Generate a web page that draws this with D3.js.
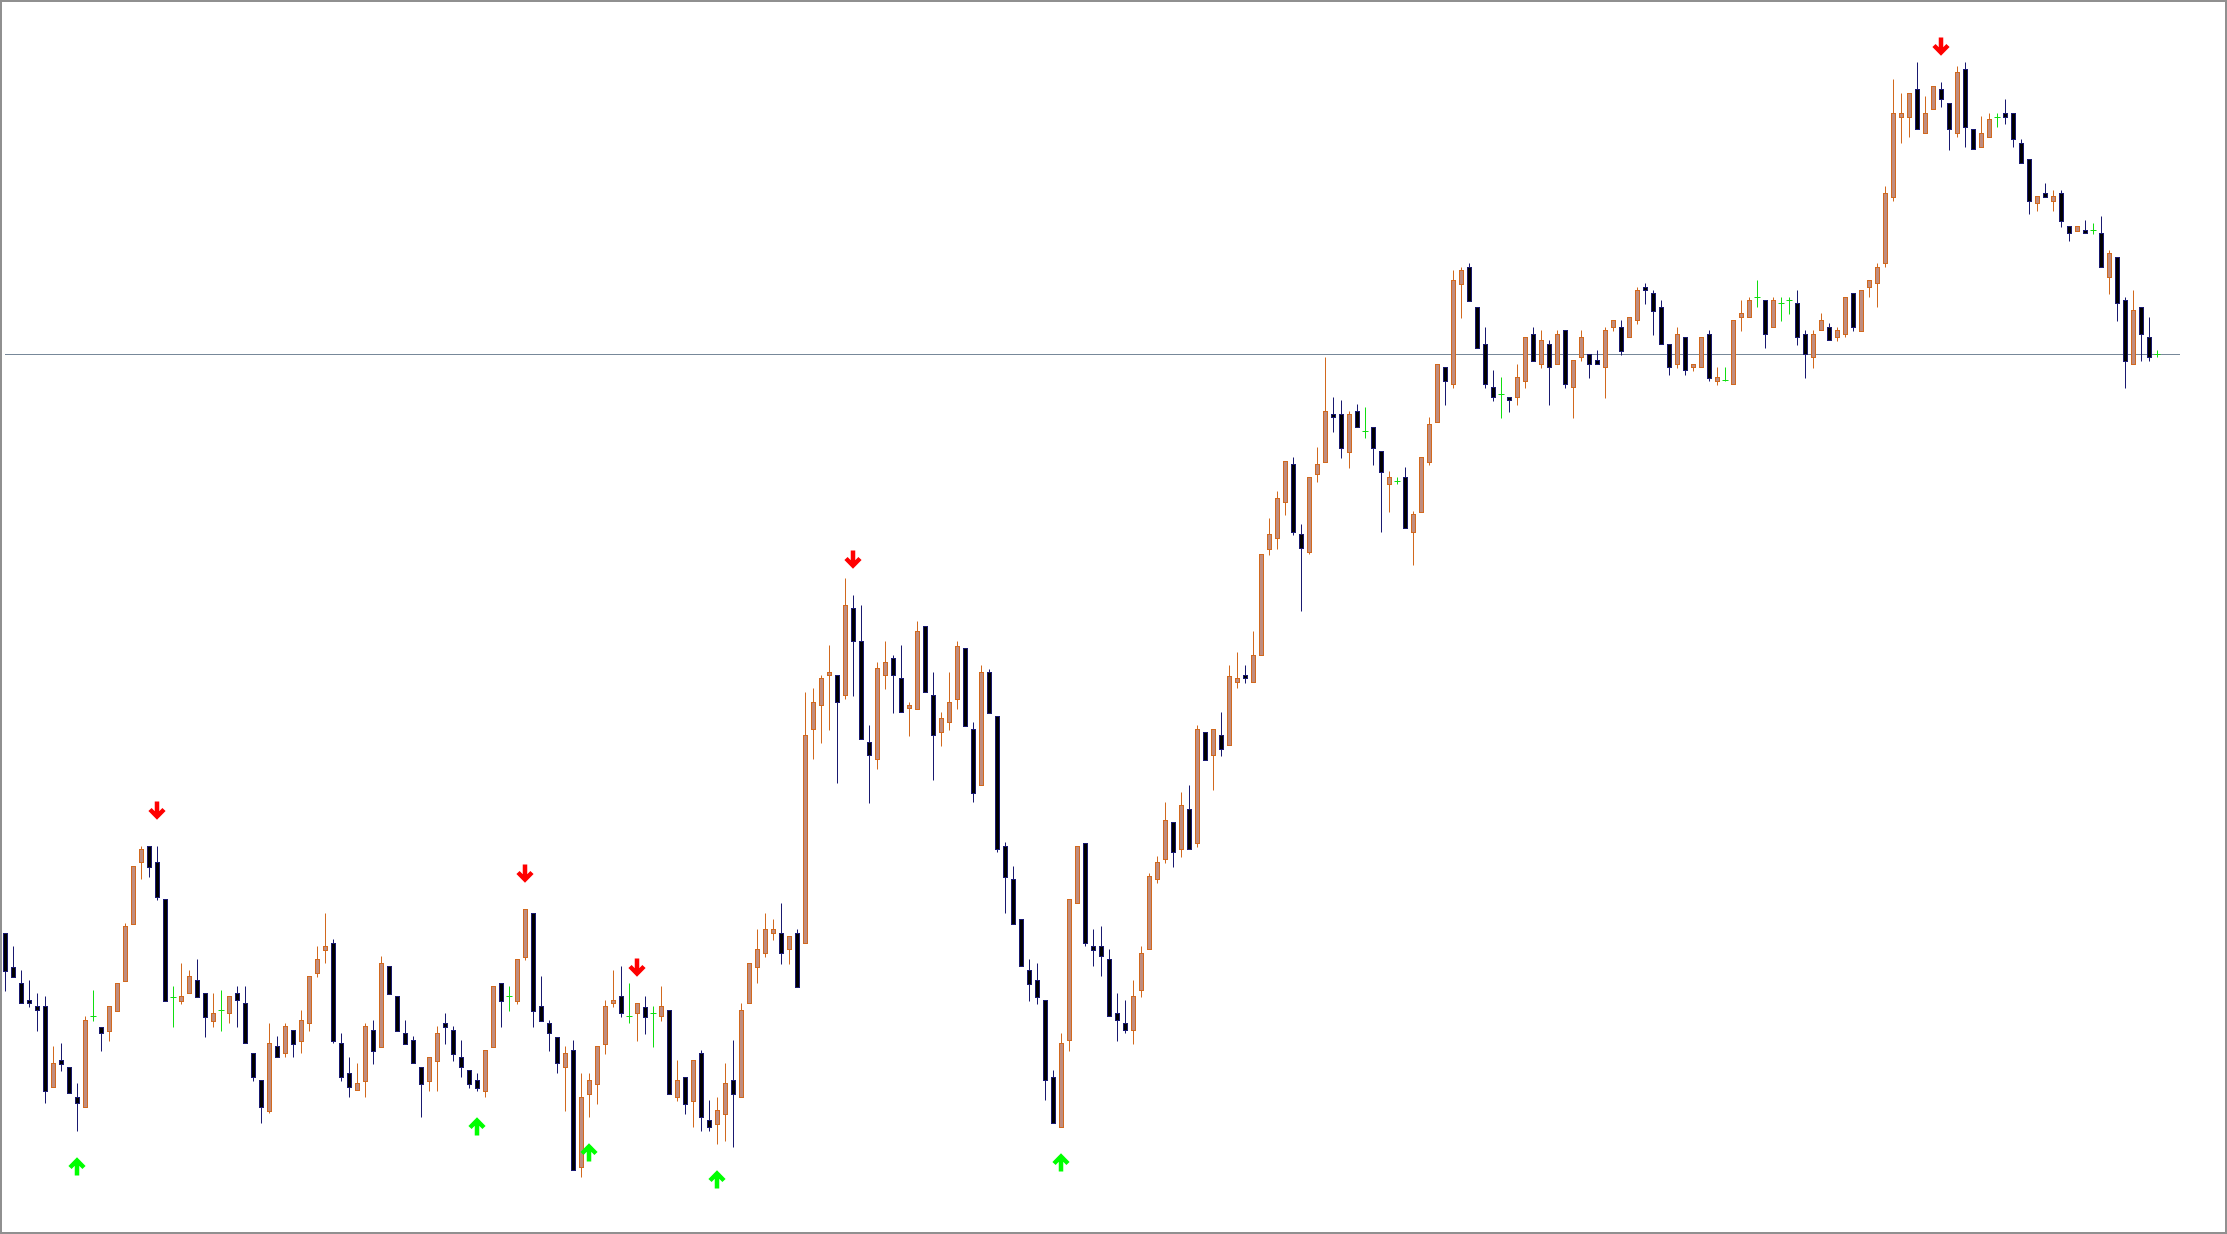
<!DOCTYPE html>
<html>
<head>
<meta charset="utf-8">
<script src="https://cdnjs.cloudflare.com/ajax/libs/d3/7.8.5/d3.min.js"></script>
<style>
  html, body { margin: 0; padding: 0; background: #fff; overflow: hidden; }
  svg { display: block; }
</style>
</head>
<body>
<svg id="chart"></svg>
<script>
// price in points, one bar per entry
var opens = [
  367,333,317,300,294,294,213,240,233,203,
  193,284,273,269,289,319,376,438,454,438,
  401,303,299,307,320,307,279,290,287,307,
  297,247,220,189,254,247,270,259,277,327,
  350,357,257,227,210,219,270,253,334,304,
  267,260,233,219,239,277,270,243,230,220,
  209,253,317,304,299,343,387,294,277,263,
  233,250,133,206,216,256,297,304,284,287,
  293,287,284,290,203,223,199,247,180,176,
  186,220,203,297,333,347,367,367,351,367,
  357,571,595,625,625,605,692,659,558,541,
  625,642,622,592,591,674,605,568,578,601,
  652,571,515,628,584,454,421,381,330,320,
  300,223,173,260,397,457,354,354,341,287,
  277,270,310,351,421,441,478,451,491,457,
  568,545,565,555,618,625,618,645,751,762,
  798,836,766,748,826,838,886,886,848,889,
  869,873,849,816,819,823,768,788,838,878,
  933,916,1016,1033,993,956,913,906,903,903,
  919,966,936,956,936,970,913,943,946,940,
  933,973,973,963,980,1013,1007,993,956,936,
  963,933,933,966,919,920,916,983,983,1003,
  1000,973,997,1000,997,966,943,970,973,963,
  966,1007,969,1013,1017,1037,1103,1183,1183,1211,
  1167,1191,1211,1197,1167,1231,1171,1153,1163,1183,
  1187,1187,1157,1141,1097,1107,1099,1107,1074,1069,
  1070,1070,1067,1023,1043,1000,936,993,963,946
];
var highs = [
  367,354,330,320,307,304,254,257,233,217,
  284,310,273,294,317,377,434,454,454,454,
  401,314,337,330,341,307,307,310,304,314,
  314,247,220,277,264,277,270,290,324,354,
  387,361,267,243,237,277,280,344,334,304,
  280,264,233,243,274,287,274,260,230,227,
  250,314,317,314,341,391,387,324,280,263,
  254,260,227,227,254,300,330,334,317,297,
  304,294,314,290,240,223,240,250,200,203,
  237,260,297,337,371,387,381,397,364,371,
  608,612,625,655,625,722,705,695,575,638,
  659,645,655,598,679,674,628,588,628,659,
  652,578,635,631,584,458,434,381,341,337,
  300,230,267,401,454,457,371,374,351,307,
  300,320,354,427,444,498,478,508,515,575,
  568,571,588,635,648,635,669,746,782,809,
  839,843,776,823,853,943,903,900,889,896,
  893,873,849,829,823,833,789,843,883,936,
  933,1030,1033,1037,993,973,930,923,903,936,
  963,973,970,960,970,970,940,970,946,950,
  973,980,980,983,1013,1017,1010,1000,956,973,
  963,936,963,970,933,933,980,1000,1003,1020,
  1000,1003,1003,1003,1010,970,970,987,977,973,
  1003,1007,1010,1020,1037,1114,1221,1207,1207,1238,
  1204,1214,1218,1197,1234,1238,1171,1184,1187,1187,
  1201,1187,1161,1141,1104,1117,1110,1110,1074,1074,
  1080,1077,1084,1050,1043,1003,1010,993,983,950
];
var lows = [
  309,323,297,293,269,197,213,229,207,169,
  193,279,249,259,289,319,376,421,423,400,
  299,273,296,307,303,263,273,269,277,273,
  257,219,177,187,243,243,243,247,269,323,
  337,257,219,203,210,203,236,253,306,269,
  256,237,183,209,209,256,239,223,212,209,
  203,253,273,289,296,340,273,279,249,227,
  189,130,123,183,196,246,293,283,277,259,
  266,253,279,206,199,186,173,169,169,156,
  159,153,203,297,317,343,360,336,336,313,
  357,541,557,570,517,601,604,561,497,531,
  611,587,588,564,591,608,520,554,570,591,
  574,498,515,587,448,387,376,334,299,296,
  200,177,173,249,397,354,334,324,284,259,
  267,256,303,351,417,437,433,443,451,453,
  540,510,544,555,612,617,618,645,745,751,
  785,765,689,746,818,838,868,842,832,873,
  862,835,768,788,816,772,735,788,835,878,
  895,912,982,999,952,912,899,882,888,895,
  912,939,932,895,936,912,882,939,922,936,
  902,969,945,963,976,996,965,956,925,932,
  925,929,933,919,915,919,916,969,983,993,
  952,973,979,986,955,922,932,970,960,959,
  963,969,969,1003,993,1033,1099,1157,1163,1171,
  1167,1191,1193,1150,1163,1153,1151,1153,1163,1173,
  1176,1153,1137,1086,1089,1103,1089,1073,1059,1069,
  1067,1066,1033,1006,979,912,936,939,939,943
];
var closes = [
  329,323,297,297,290,209,237,236,207,197,
  280,284,267,294,317,374,434,451,433,403,
  299,303,304,324,303,283,287,290,304,300,
  257,223,193,257,243,274,256,280,324,341,
  354,259,223,213,217,274,249,337,306,269,
  256,237,216,243,267,273,246,233,216,212,
  250,314,299,304,341,391,289,279,267,237,
  247,130,203,220,254,294,300,287,284,297,
  283,287,294,206,220,196,240,183,173,190,
  217,206,290,337,351,371,371,347,364,313,
  565,598,622,628,598,695,659,561,545,632,
  638,625,588,595,669,608,565,582,598,654,
  574,507,628,587,451,423,376,334,316,303,
  220,177,257,401,454,357,350,344,284,280,
  270,304,347,424,438,480,448,495,451,571,
  540,571,551,624,622,622,645,746,766,802,
  839,768,752,823,836,889,883,852,886,873,
  869,852,828,823,819,772,786,843,876,936,
  919,1020,1030,999,952,916,903,906,900,923,
  963,939,960,933,966,916,940,963,936,936,
  970,980,949,983,1010,1010,989,956,933,966,
  930,936,963,922,923,920,980,987,1000,1003,
  966,1000,997,1000,963,946,966,980,960,970,
  1003,973,1010,1020,1033,1107,1187,1187,1207,1171,
  1187,1214,1201,1171,1228,1173,1151,1167,1181,1183,
  1183,1161,1137,1099,1104,1103,1104,1079,1067,1074,
  1067,1070,1033,1047,997,939,990,966,943,946
];
// fractal arrows (bar index)
var upArrows = [9, 59, 73, 89, 132];
var downArrows = [19, 65, 79, 106, 242];
var levelPrice = 946;

var width = 2227;
var height = 1234;

var bullFill = "#c08c7d", bullLine = "#d2691e";
var bearFill = "#000000", bearLine = "#191970";
var dojiColor = "#11dd11";

var candles = opens.map(function (o, i) {
  return { i: i, open: o, high: highs[i], low: lows[i], close: closes[i] };
});

var svg = d3.select("#chart")
  .attr("width", width)
  .attr("height", height);

svg.append("rect")
  .attr("width", width)
  .attr("height", height)
  .attr("fill", "#ffffff");

var x = d3.scaleLinear()
  .domain([0, candles.length - 1])
  .range([5.3, 5.3 + 8 * (candles.length - 1)]);

var y = d3.scaleLinear()
  .domain([0, 1300])
  .range([1300, 0]);

function cx(d) { return Math.round(x(d.i)) + 0.5; }
function py(v) { return Math.round(y(v)) + 0.5; }

// horizontal level
svg.append("line")
  .attr("x1", 5)
  .attr("x2", 2180)
  .attr("y1", py(levelPrice))
  .attr("y2", py(levelPrice))
  .attr("stroke", "#778899")
  .attr("stroke-width", 1);

var normal = candles.filter(function (d) { return d.open !== d.close; });
var dojis = candles.filter(function (d) { return d.open === d.close; });

var g = svg.append("g");

g.selectAll(".wick")
  .data(normal).enter()
  .append("line")
  .attr("class", "wick")
  .attr("x1", cx).attr("x2", cx)
  .attr("y1", function (d) { return py(d.high); })
  .attr("y2", function (d) { return py(d.low); })
  .attr("stroke", function (d) { return d.close > d.open ? bullLine : bearLine; })
  .attr("stroke-width", 1);

g.selectAll(".body")
  .data(normal).enter()
  .append("rect")
  .attr("class", "body")
  .attr("x", function (d) { return cx(d) - 2; })
  .attr("width", 4)
  .attr("y", function (d) { return py(Math.max(d.open, d.close)); })
  .attr("height", function (d) {
    return Math.max(1, py(Math.min(d.open, d.close)) - py(Math.max(d.open, d.close)));
  })
  .attr("fill", function (d) { return d.close > d.open ? bullFill : bearFill; })
  .attr("stroke", function (d) { return d.close > d.open ? bullLine : bearLine; })
  .attr("stroke-width", 1);

g.selectAll(".doji-v")
  .data(dojis).enter()
  .append("line")
  .attr("class", "doji-v")
  .attr("x1", cx).attr("x2", cx)
  .attr("y1", function (d) { return py(d.high); })
  .attr("y2", function (d) { return py(d.low); })
  .attr("stroke", dojiColor)
  .attr("stroke-width", 1);

g.selectAll(".doji-h")
  .data(dojis).enter()
  .append("line")
  .attr("class", "doji-h")
  .attr("x1", function (d) { return cx(d) - 3; })
  .attr("x2", function (d) { return cx(d) + 3; })
  .attr("y1", function (d) { return py(d.open); })
  .attr("y2", function (d) { return py(d.open); })
  .attr("stroke", dojiColor)
  .attr("stroke-width", 1);

// arrows
function downPath(px, pyy) {
  return "M" + px + "," + (pyy - 9.5) + "L" + px + "," + (pyy + 5) +
    "M" + (px - 7) + "," + (pyy - 1.5) + "L" + px + "," + (pyy + 5.5) + "L" + (px + 7) + "," + (pyy - 1.5);
}
function upPath(px, pyy) {
  return "M" + px + "," + (pyy + 9.5) + "L" + px + "," + (pyy - 5) +
    "M" + (px - 7) + "," + (pyy + 1.5) + "L" + px + "," + (pyy - 5.5) + "L" + (px + 7) + "," + (pyy + 1.5);
}

svg.selectAll(".arrow-down")
  .data(downArrows.map(function (i) { return candles[i]; })).enter()
  .append("path")
  .attr("class", "arrow-down")
  .attr("d", function (d) { return downPath(cx(d) - 0.5, y(d.high) - 35); })
  .attr("fill", "none")
  .attr("stroke", "#ff0000")
  .attr("stroke-width", 4.5)
  .attr("stroke-linejoin", "miter");

svg.selectAll(".arrow-up")
  .data(upArrows.map(function (i) { return candles[i]; })).enter()
  .append("path")
  .attr("class", "arrow-up")
  .attr("d", function (d) { return upPath(cx(d) - 0.5, y(d.low) + 35); })
  .attr("fill", "none")
  .attr("stroke", "#00ff00")
  .attr("stroke-width", 4.5)
  .attr("stroke-linejoin", "miter");

// frame
svg.append("rect")
  .attr("x", 1).attr("y", 1)
  .attr("width", width - 2)
  .attr("height", height - 2)
  .attr("fill", "none")
  .attr("stroke", "#909090")
  .attr("stroke-width", 2);
</script>
</body>
</html>
